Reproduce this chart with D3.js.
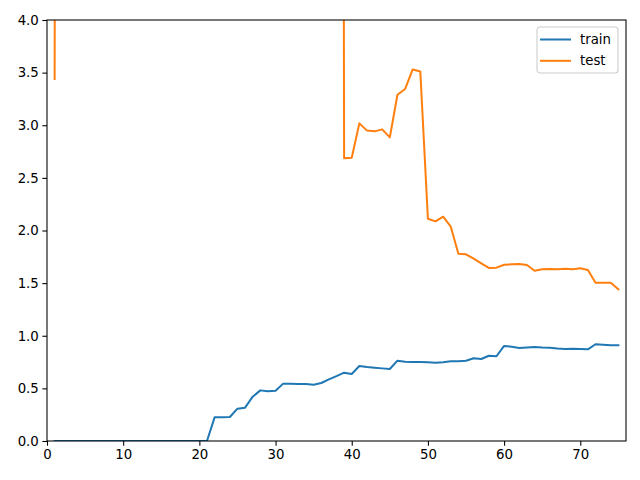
<!DOCTYPE html>
<html>
<head>
<meta charset="utf-8">
<script src="https://cdn.jsdelivr.net/npm/d3@7"></script>
<style>
  body { margin: 0; background: #fff; }
  svg { display: block; font-family: "DejaVu Sans", sans-serif; }
</style>
</head>
<body>
<div id="grafico"></div>
<script>
// epochs 1..75
var epochs = d3.range(1, 76);

var trainLoss = [
  0, 0, 0, 0, 0, 0, 0, 0, 0, 0,
  0, 0, 0, 0, 0, 0, 0, 0, 0, 0,
  0, 0.225, 0.225, 0.228, 0.307, 0.317, 0.421, 0.481, 0.472, 0.478,
  0.545, 0.545, 0.542, 0.542, 0.535, 0.551, 0.586, 0.617, 0.649, 0.637,
  0.713, 0.703, 0.697, 0.690, 0.684, 0.763, 0.754, 0.751, 0.751, 0.748,
  0.744, 0.748, 0.757, 0.757, 0.763, 0.786, 0.779, 0.810, 0.805, 0.903,
  0.896, 0.884, 0.888, 0.893, 0.888, 0.885, 0.878, 0.874, 0.876, 0.875,
  0.871, 0.919, 0.915, 0.909, 0.909
];

// epochs 2..38 are far above the visible range (clipped at 4)
var testLoss = [
  3.44, 40, 40, 40, 40, 40, 40, 40, 40, 40,
  40, 40, 40, 40, 40, 40, 40, 40, 40, 40,
  40, 40, 40, 40, 40, 40, 40, 40, 40, 40,
  40, 40, 40, 40, 40, 40, 40, 40, 2.686, 2.692,
  3.018, 2.949, 2.942, 2.961, 2.885, 3.290, 3.344, 3.530, 3.510, 2.112,
  2.087, 2.131, 2.036, 1.780, 1.774, 1.732, 1.688, 1.644, 1.647, 1.675,
  1.679, 1.682, 1.672, 1.618, 1.631, 1.634, 1.631, 1.637, 1.631, 1.641,
  1.625, 1.504, 1.504, 1.504, 1.441
];

var xTicks = [0, 10, 20, 30, 40, 50, 60, 70];
var yTicks = [0, 0.5, 1, 1.5, 2, 2.5, 3, 3.5, 4];

var seriesNames = ["train", "test"];
var seriesColors = ["#1f77b4", "#ff7f0e"];

var width = 640, height = 480;
var margin = {top: 20, right: 14, bottom: 39, left: 47};
var plotWidth = width - margin.left - margin.right;
var plotHeight = height - margin.top - margin.bottom;

var svg = d3.select("#grafico").append("svg")
  .attr("width", width).attr("height", height);

var xScale = d3.scaleLinear().domain([0, 76]).range([0, plotWidth]);
var yScale = d3.scaleLinear().domain([0, 4]).range([plotHeight, 0]);

var plotArea = svg.append("g")
  .attr("transform", "translate(" + margin.left + "," + margin.top + ")");

svg.append("defs").append("clipPath").attr("id", "clip")
  .append("rect").attr("width", plotWidth).attr("height", plotHeight);

var line = d3.line()
  .x(function(d){ return xScale(d[0]); })
  .y(function(d){ return yScale(d[1]); });

var allSeries = [trainLoss, testLoss];
plotArea.append("g").attr("clip-path", "url(#clip)")
  .selectAll("path.line")
  .data(allSeries).enter().append("path")
  .attr("class", "line")
  .attr("fill", "none")
  .attr("stroke", function(d, i){ return seriesColors[i]; })
  .attr("stroke-width", 2)
  .attr("stroke-linecap", "square")
  .attr("stroke-linejoin", "round")
  .attr("d", function(d){ return line(d.map(function(v, i){ return [epochs[i], v]; })); });

// axes
var font = "13.33px";
var xAxis = plotArea.append("g")
  .attr("transform", "translate(0," + plotHeight + ")")
  .call(d3.axisBottom(xScale).tickValues(xTicks).tickSizeOuter(0).tickSize(4.67).tickPadding(3.5));
var yAxis = plotArea.append("g")
  .call(d3.axisLeft(yScale).tickValues(yTicks).tickFormat(d3.format(".1f")).tickSizeOuter(0).tickSize(4.67).tickPadding(3.5));

[xAxis, yAxis].forEach(function(a){
  a.select(".domain").remove();
  a.selectAll(".tick line").attr("stroke", "#000").attr("stroke-width", 1.07);
  a.selectAll(".tick text").attr("fill", "#000")
    .style("font-family", "DejaVu Sans").style("font-size", font);
});

// spines
plotArea.append("rect")
  .attr("width", plotWidth).attr("height", plotHeight)
  .attr("fill", "none").attr("stroke", "#000").attr("stroke-width", 1.07);

// legend
var legend = svg.append("g").attr("transform", "translate(537,27)");
legend.append("rect")
  .attr("width", 81).attr("height", 46).attr("rx", 3)
  .attr("fill", "#fff").attr("fill-opacity", 0.8)
  .attr("stroke", "#ccc").attr("stroke-width", 1.07);
var items = legend.selectAll("g.item").data(seriesNames).enter().append("g")
  .attr("class", "item")
  .attr("transform", function(d, i){ return "translate(0," + (12.5 + i * 21.3) + ")"; });
items.append("line")
  .attr("x1", 4).attr("x2", 33)
  .attr("stroke", function(d, i){ return seriesColors[i]; })
  .attr("stroke-width", 2).attr("stroke-linecap", "square");
items.append("text")
  .attr("x", 43).attr("dy", "0.35em")
  .style("font-size", font)
  .text(function(d){ return d; });
</script>
</body>
</html>
